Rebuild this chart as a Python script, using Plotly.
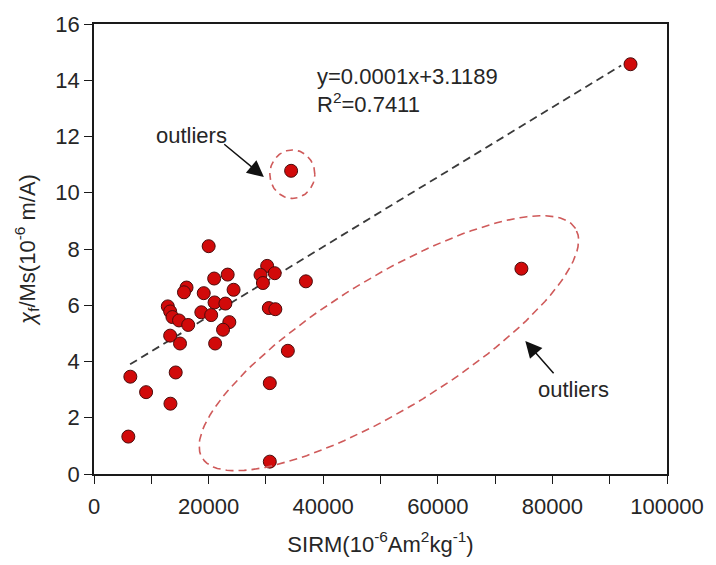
import numpy as np
import plotly.graph_objects as go

# Data
sirm = [20010, 30220, 29060, 31540, 29480, 23330, 20970, 36980, 16150, 15700,
        19150, 24360, 21040, 22930, 12880, 13290, 13690, 14840, 16440, 18730,
        20450, 30510, 31650, 23620, 22520, 13290, 15010, 21140, 33830, 6340,
        14260, 9090, 30680, 13340, 5990, 30680, 34400, 74590, 93630]
chi_ms = [8.10, 7.40, 7.08, 7.14, 6.79, 7.09, 6.95, 6.85, 6.63, 6.46,
          6.43, 6.55, 6.10, 6.06, 5.96, 5.78, 5.58, 5.46, 5.30, 5.75,
          5.65, 5.90, 5.86, 5.40, 5.13, 4.92, 4.64, 4.64, 4.38, 3.46,
          3.61, 2.91, 3.23, 2.50, 1.33, 0.44, 10.78, 7.30, 14.57]

fit_slope = 0.000124
fit_intercept = 3.1189
fit_x = [6300, 92000]

x_tickvals = [0, 20000, 40000, 60000, 80000, 100000]
x_ticktext = ["0", "20000", "40000", "60000", "80000", "100000"]
y_tickvals = [0, 2, 4, 6, 8, 10, 12, 14, 16]
y_ticktext = ["0", "2", "4", "6", "8", "10", "12", "14", "16"]

X_RANGE = [0, 100000]
Y_RANGE = [0, 16]

W, H = 716, 565
ML, MR, MT, MB = 94, 41, 19, 91
plot_w = W - ML - MR
plot_h = H - MT - MB

FONT = "Liberation Sans, Arial, sans-serif"
TXT = "#262626"

fig = go.Figure()

# regression line
fx = np.array(fit_x, dtype=float)
fig.add_trace(go.Scatter(
    x=fx, y=fit_slope * fx + fit_intercept, mode="lines",
    line=dict(color="#3a3a3a", width=1.8, dash="8px,5px"),
    hoverinfo="skip", showlegend=False))

# points
fig.add_trace(go.Scatter(
    x=sirm, y=chi_ms, mode="markers",
    marker=dict(size=13, color="#d10a0a", line=dict(color="#4a0c0c", width=1)),
    showlegend=False))

# rotated ellipse around lower outliers (defined in pixel units, converted through axis scales)
sx = plot_w / (X_RANGE[1] - X_RANGE[0])
sy = plot_h / (Y_RANGE[1] - Y_RANGE[0])
ecx, ecy = 51460, 4.65
ea, eb, eth = 222, 66, np.deg2rad(31.5)
t = np.linspace(0, 2 * np.pi, 121)
dxp = ea * np.cos(t) * np.cos(eth) - eb * np.sin(t) * np.sin(eth)
dyp = ea * np.cos(t) * np.sin(eth) + eb * np.sin(t) * np.cos(eth)
ex = ecx + dxp / sx
ey = ecy + dyp / sy
fig.add_trace(go.Scatter(
    x=ex, y=ey, mode="lines",
    line=dict(color="#cf5a5a", width=1.6, dash="8px,5px"),
    hoverinfo="skip", showlegend=False))

# small circle around upper outlier
ccx, ccy = 34610, 10.66
crx, cry = 22.8, 24.5
cx = ccx + crx * np.cos(t) / sx
cy = ccy + cry * np.sin(t) / sy
fig.add_trace(go.Scatter(
    x=cx, y=cy, mode="lines",
    line=dict(color="#cf5a5a", width=1.6, dash="7px,5px"),
    hoverinfo="skip", showlegend=False))

# annotations
fig.add_annotation(x=38530, y=14.15, xref="x", yref="y", text="y=0.0001x+3.1189",
                   showarrow=False, xanchor="left", yanchor="middle",
                   font=dict(family=FONT, size=22, color=TXT))
fig.add_annotation(x=38530, y=13.2, xref="x", yref="y", text="R<sup>2</sup>=0.7411",
                   showarrow=False, xanchor="left", yanchor="middle",
                   font=dict(family=FONT, size=22, color=TXT))

fig.add_annotation(x=17040, y=12.05, xref="x", yref="y", text="outliers",
                   showarrow=False, font=dict(family=FONT, size=22, color=TXT))
fig.add_annotation(x=29650, y=10.56, ax=22470, ay=11.77, axref="x", ayref="y",
                   xref="x", yref="y", text="", showarrow=True,
                   arrowhead=2, arrowsize=2.2, arrowwidth=1.5, arrowcolor="#111")

fig.add_annotation(x=83680, y=3.01, xref="x", yref="y", text="outliers",
                   showarrow=False, font=dict(family=FONT, size=22, color=TXT))
fig.add_annotation(x=75270, y=4.73, ax=80440, ay=3.53, axref="x", ayref="y",
                   xref="x", yref="y", text="", showarrow=True,
                   arrowhead=2, arrowsize=2.2, arrowwidth=1.5, arrowcolor="#111")

axis_common = dict(showgrid=False, zeroline=False, showline=True, linecolor="#1a1a1a",
                   linewidth=1.5, mirror=True, ticks="outside", ticklen=8, tickwidth=1.2,
                   tickcolor="#1a1a1a", tickfont=dict(family=FONT, size=22, color=TXT))

fig.update_xaxes(range=X_RANGE, tickvals=x_tickvals, ticktext=x_ticktext,
                 ticklabelstandoff=4,
                 minor=dict(dtick=10000, ticks="outside", ticklen=8, tickwidth=1.2,
                            tickcolor="#1a1a1a"),
                 title=dict(text="SIRM(10<sup>-6</sup>Am<sup>2</sup>kg<sup>-1</sup>)",
                            font=dict(family=FONT, size=22, color=TXT), standoff=18),
                 **axis_common)
fig.update_yaxes(range=Y_RANGE, tickvals=y_tickvals, ticktext=y_ticktext,
                 title=dict(text="<i>χ</i><sub>f</sub>/Ms(10<sup>-6</sup> m/A)",
                            font=dict(family=FONT, size=22, color=TXT), standoff=14),
                 **axis_common)

fig.update_layout(width=W, height=H, margin=dict(l=ML, r=MR, t=MT, b=MB),
                  plot_bgcolor="white", paper_bgcolor="white", showlegend=False)

fig.write_html("out.html")
